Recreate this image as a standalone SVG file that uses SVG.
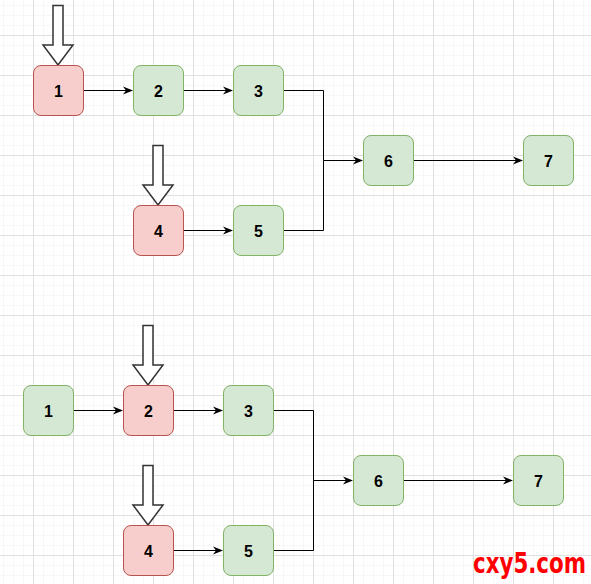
<svg xmlns="http://www.w3.org/2000/svg" width="591" height="584" viewBox="0 0 591 584">
<defs>
<pattern id="minor" x="3" y="5" width="10" height="10" patternUnits="userSpaceOnUse">
<path d="M0 0H10M0 0V10" fill="none" stroke="#f0f0f0" stroke-width="1"/>
</pattern>
<pattern id="major" x="33" y="35" width="40" height="40" patternUnits="userSpaceOnUse">
<path d="M0 0.5H40M0.5 0V40" fill="none" stroke="#e0e0e0" stroke-width="1"/>
</pattern>
<marker id="arr" viewBox="0 0 10 10" refX="9" refY="5" markerWidth="10" markerHeight="10" markerUnits="userSpaceOnUse" orient="auto">
<path d="M0 1 L10 5 L0 9 L3 5 Z" fill="#000"/>
</marker>
<style>
.red rect{fill:#f8cecc;stroke:#b85450;stroke-width:1}
.green rect{fill:#d5e8d4;stroke:#82b366;stroke-width:1}
text.lbl{font-family:"Liberation Sans",Arial,sans-serif;font-weight:bold;font-size:16px;text-anchor:middle;fill:#000}
.conn path{fill:none;stroke:#000;stroke-width:1}
.block{fill:#fff;stroke:#333;stroke-width:1.5}
</style>
</defs>
<rect width="591" height="584" fill="#fff"/>
<rect width="591" height="584" fill="url(#minor)"/>
<rect width="591" height="584" fill="url(#major)"/>

<g id="ptrs">
<path class="block" d="M53 5.5H63V45H73L58 65L43 45H53Z"/>
<path class="block" d="M153 145.5H163V185H173L158 205L143 185H153Z"/>
<path class="block" d="M143 325.5H153V365H163L148 385L133 365H143Z"/>
<path class="block" d="M143 465.5H153V505H163L148 525L133 505H143Z"/>
</g>

<g class="conn" id="connectors">
<path d="M83.5 90.5H132" marker-end="url(#arr)"/>
<path d="M183.5 90.5H232" marker-end="url(#arr)"/>
<path d="M283.5 90.5H323.5V160.5H362" marker-end="url(#arr)"/>
<path d="M283.5 230.5H323.5V160.5"/>
<path d="M183.5 230.5H232" marker-end="url(#arr)"/>
<path d="M413.5 160.5H522" marker-end="url(#arr)"/>
<path d="M73.5 410.5H122" marker-end="url(#arr)"/>
<path d="M173.5 410.5H222" marker-end="url(#arr)"/>
<path d="M273.5 410.5H313.5V480.5H352" marker-end="url(#arr)"/>
<path d="M273.5 550.5H313.5V480.5"/>
<path d="M173.5 550.5H222" marker-end="url(#arr)"/>
<path d="M403.5 480.5H512" marker-end="url(#arr)"/>
</g>

<g id="t1" class="red"><rect x="33.5" y="65.5" width="50" height="50" rx="7.5"/><text class="lbl" x="58.5" y="96.5">1</text></g>
<g id="t2" class="green"><rect x="133.5" y="65.5" width="50" height="50" rx="7.5"/><text class="lbl" x="158.5" y="96.5">2</text></g>
<g id="t3" class="green"><rect x="233.5" y="65.5" width="50" height="50" rx="7.5"/><text class="lbl" x="258.5" y="96.5">3</text></g>
<g id="t4" class="red"><rect x="133.5" y="205.5" width="50" height="50" rx="7.5"/><text class="lbl" x="158.5" y="236.5">4</text></g>
<g id="t5" class="green"><rect x="233.5" y="205.5" width="50" height="50" rx="7.5"/><text class="lbl" x="258.5" y="236.5">5</text></g>
<g id="t6" class="green"><rect x="363.5" y="135.5" width="50" height="50" rx="7.5"/><text class="lbl" x="388.5" y="166.5">6</text></g>
<g id="t7" class="green"><rect x="523.5" y="135.5" width="50" height="50" rx="7.5"/><text class="lbl" x="548.5" y="166.5">7</text></g>

<g id="b1" class="green"><rect x="23.5" y="385.5" width="50" height="50" rx="7.5"/><text class="lbl" x="48.5" y="416.5">1</text></g>
<g id="b2" class="red"><rect x="123.5" y="385.5" width="50" height="50" rx="7.5"/><text class="lbl" x="148.5" y="416.5">2</text></g>
<g id="b3" class="green"><rect x="223.5" y="385.5" width="50" height="50" rx="7.5"/><text class="lbl" x="248.5" y="416.5">3</text></g>
<g id="b4" class="red"><rect x="123.5" y="525.5" width="50" height="50" rx="7.5"/><text class="lbl" x="148.5" y="556.5">4</text></g>
<g id="b5" class="green"><rect x="223.5" y="525.5" width="50" height="50" rx="7.5"/><text class="lbl" x="248.5" y="556.5">5</text></g>
<g id="b6" class="green"><rect x="353.5" y="455.5" width="50" height="50" rx="7.5"/><text class="lbl" x="378.5" y="486.5">6</text></g>
<g id="b7" class="green"><rect x="513.5" y="455.5" width="50" height="50" rx="7.5"/><text class="lbl" x="538.5" y="486.5">7</text></g>

<text x="473" y="573" font-family="'DejaVu Sans Condensed','Liberation Sans',sans-serif" font-weight="bold" font-size="28" fill="#ff0000" textLength="113" lengthAdjust="spacingAndGlyphs">cxy5.com</text>
</svg>
